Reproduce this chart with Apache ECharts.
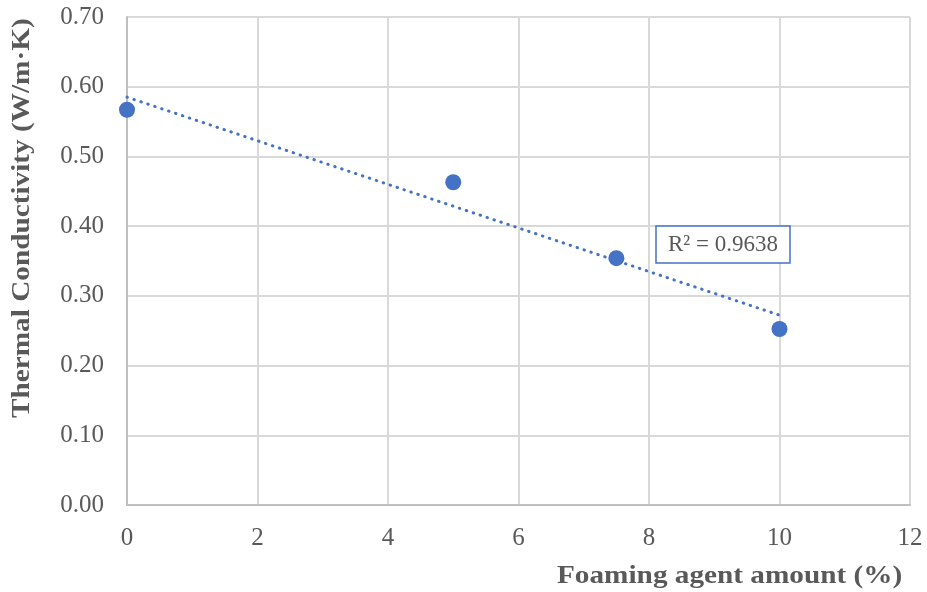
<!DOCTYPE html>
<html>
<head>
<meta charset="utf-8">
<script src="https://cdn.jsdelivr.net/npm/echarts@6/dist/echarts.min.js"></script>
<style>
  html, body { margin: 0; padding: 0; background: #fff; }
  #chart { width: 927px; height: 592px; }
</style>
</head>
<body>
<div id="chart"></div>
<script>
// Foaming agent dosage (%) vs measured thermal conductivity (W/m·K)
const foamingAgent = [0, 5, 7.5, 10];
const conductivity = [0.567, 0.463, 0.354, 0.2525];
const xTicks = [0, 2, 4, 6, 8, 10, 12];
const yTicks = [0.00, 0.10, 0.20, 0.30, 0.40, 0.50, 0.60, 0.70];
const rSquaredText = 'R² = 0.9638';

// Least-squares linear trendline through the measured points
function linearFit(xs, ys) {
  const n = xs.length;
  const mx = xs.reduce((a, b) => a + b, 0) / n;
  const my = ys.reduce((a, b) => a + b, 0) / n;
  let sxy = 0, sxx = 0;
  for (let i = 0; i < n; i++) {
    sxy += (xs[i] - mx) * (ys[i] - my);
    sxx += (xs[i] - mx) * (xs[i] - mx);
  }
  const slope = sxy / sxx;
  return { slope, intercept: my - slope * mx };
}
const fit = linearFit(foamingAgent, conductivity);
const xMin = Math.min(...foamingAgent), xMax = Math.max(...foamingAgent);
const trend = [[xMin, fit.intercept + fit.slope * xMin], [xMax, fit.intercept + fit.slope * xMax]];

const serif = '"Liberation Serif", "Times New Roman", serif';
const textColor = '#595959';
const blue = '#4472c4';

const chart = echarts.init(document.getElementById('chart'));
chart.setOption({
  animation: false,
  grid: { left: 127, right: 17, top: 17, bottom: 87, containLabel: false },
  xAxis: {
    type: 'value',
    min: xTicks[0], max: xTicks[xTicks.length - 1], interval: 2,
    axisLine: { show: true, lineStyle: { color: '#bfbfbf', width: 2 } },
    axisTick: { show: false },
    splitLine: { show: true, lineStyle: { color: '#d9d9d9', width: 2 } },
    axisLabel: { color: textColor, fontFamily: serif, fontSize: 25, margin: 21 }
  },
  yAxis: {
    type: 'value',
    min: yTicks[0], max: yTicks[yTicks.length - 1], interval: 0.1,
    axisLine: { show: true, lineStyle: { color: '#bfbfbf', width: 2 } },
    axisTick: { show: false },
    splitLine: { show: true, lineStyle: { color: '#d9d9d9', width: 2 } },
    axisLabel: {
      color: textColor, fontFamily: serif, fontSize: 25, margin: 23,
      formatter: v => v.toFixed(2)
    }
  },
  graphic: [
    {
      type: 'text', x: 557, y: 564, scaleX: 1.17,
      style: { text: 'Foaming agent amount (%)', fill: textColor,
               font: 'bold 25px ' + serif, textVerticalAlign: 'top' }
    },
    {
      type: 'text', x: 10, y: 418, rotation: Math.PI / 2, scaleX: 1.17,
      style: { text: 'Thermal Conductivity (W/m·K)', fill: textColor,
               font: 'bold 25px ' + serif, textAlign: 'left', textVerticalAlign: 'top' }
    },
    {
      type: 'rect', x: 656, y: 226, z: 10,
      shape: { width: 134, height: 37 },
      style: { fill: '#fff', stroke: blue, lineWidth: 1.5 }
    },
    {
      type: 'text', x: 723, y: 245, z: 11,
      style: { text: rSquaredText, fill: textColor, font: '23px ' + serif,
               textAlign: 'center', textVerticalAlign: 'middle' }
    }
  ],
  series: [
    {
      name: 'Linear trend',
      type: 'line',
      data: trend,
      symbol: 'none',
      lineStyle: { color: blue, width: 3, type: [0.5, 6.8], cap: 'round' },
      z: 2
    },
    {
      name: 'Thermal conductivity',
      type: 'scatter',
      data: foamingAgent.map((x, i) => [x, conductivity[i]]),
      symbolSize: 16,
      itemStyle: { color: blue, opacity: 1 },
      z: 3
    }
  ]
});
</script>
</body>
</html>
